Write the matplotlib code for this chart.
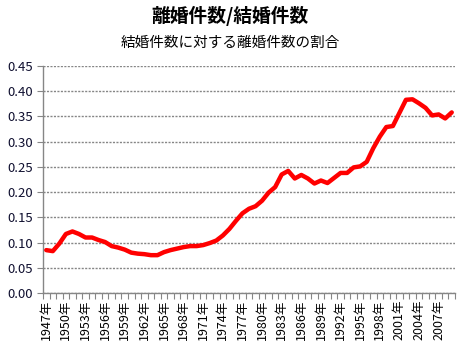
import numpy as np
import matplotlib.pyplot as plt

plt.rcParams['font.family'] = ['Noto Sans CJK JP', 'DejaVu Sans']

# divorces / marriages, 1947-2009
years = list(range(1947, 2010))
ratio = [
    0.085, 0.083, 0.098, 0.117, 0.122, 0.117, 0.110, 0.110, 0.105, 0.101,
    0.093, 0.090, 0.086, 0.080, 0.078, 0.077, 0.075, 0.075, 0.081, 0.085,
    0.088, 0.091, 0.093, 0.093, 0.095, 0.099, 0.104, 0.114, 0.127, 0.143,
    0.158, 0.167, 0.172, 0.183, 0.199, 0.210, 0.235, 0.242, 0.227, 0.234,
    0.227, 0.217, 0.223, 0.218, 0.228, 0.238, 0.238, 0.249, 0.251, 0.260,
    0.287, 0.310, 0.329, 0.331, 0.357, 0.383, 0.384, 0.376, 0.367, 0.352,
    0.354, 0.346, 0.358,
]
title = '離婚件数/結婚件数'
subtitle = '結婚件数に対する離婚件数の割合'

grey = '#868686'

fig = plt.figure(figsize=(4.6, 3.49), dpi=100)
ax = fig.add_axes([43 / 460, 56 / 349, 412 / 460, 227 / 349])

x = np.arange(len(years))
ax.plot(x, ratio, color='#ff0000', linewidth=3.2, solid_joinstyle='round',
        solid_capstyle='round', zorder=3)

ax.set_xlim(-0.5, len(years) - 0.5)
ax.set_ylim(0, 0.45)
ax.set_yticks(np.arange(0, 0.451, 0.05))
ax.set_yticklabels(['{:.2f}'.format(v) for v in np.arange(0, 0.451, 0.05)])
ax.yaxis.grid(True, color=grey, linewidth=1.0, linestyle=(0, (1.5, 1)))
ax.set_axisbelow(True)

# labels every third year, tick marks between categories
ax.set_xticks(x[::3])
ax.set_xticklabels(['{}年'.format(y) for y in years[::3]], rotation=90)
ax.set_xticks(np.arange(len(years) + 1) - 0.5, minor=True)
ax.tick_params(axis='x', which='major', length=0, pad=5, labelsize=9)
ax.tick_params(axis='x', which='minor', length=4, color=grey, width=0.8)
ax.tick_params(axis='y', length=4, color=grey, width=0.8, labelsize=9.5,
               labelcolor='#101030', pad=3)

for side in ('top', 'right'):
    ax.spines[side].set_visible(False)
for side in ('left', 'bottom'):
    ax.spines[side].set_color(grey)
    ax.spines[side].set_linewidth(1.0)

fig.text(0.5, 1 - 16 / 349, title, ha='center', va='center',
         fontsize=13.5, fontweight='bold')
fig.text(0.5, 1 - 43 / 349, subtitle, ha='center', va='center',
         fontsize=10.5)

fig.savefig('out.png', dpi=100)
